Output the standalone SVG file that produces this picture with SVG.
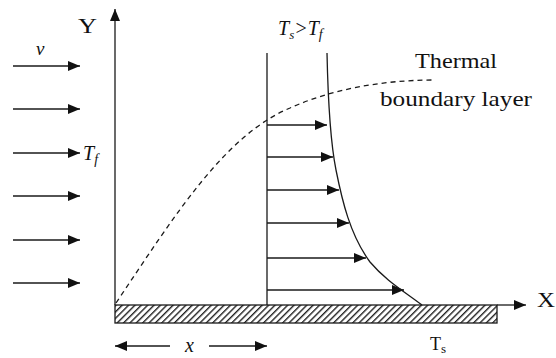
<svg xmlns="http://www.w3.org/2000/svg" width="556" height="358" viewBox="0 0 556 358">
<style>
.ln{stroke:#1a1a1a;stroke-width:1.3;fill:none}
.ar{stroke:#1a1a1a;stroke-width:1.3;fill:none;marker-end:url(#ah)}
.t{font-family:"Liberation Serif","Times New Roman",serif;fill:#111}
.i{font-style:italic}
</style>
<defs>
<marker id="ah" markerUnits="userSpaceOnUse" markerWidth="13" markerHeight="10" refX="12" refY="5" orient="auto">
<path d="M0,0 L12,5 L0,10 z" fill="#111"/>
</marker>
<pattern id="hatch" patternUnits="userSpaceOnUse" width="4.5" height="4.5" patternTransform="rotate(45)">
<line x1="0.7" y1="0" x2="0.7" y2="4.5" stroke="#111" stroke-width="1.3"/>
</pattern>
</defs>
<g id="connectors">
<line class="ar" x1="13" y1="66" x2="80" y2="66"/>
<line class="ar" x1="13" y1="109" x2="80" y2="109"/>
<line class="ar" x1="13" y1="153" x2="80" y2="153"/>
<line class="ar" x1="13" y1="196" x2="80" y2="196"/>
<line class="ar" x1="13" y1="240" x2="80" y2="240"/>
<line class="ar" x1="13" y1="283" x2="80" y2="283"/>
<line class="ar" x1="267" y1="125" x2="327" y2="125"/>
<line class="ar" x1="267" y1="157" x2="333" y2="157"/>
<line class="ar" x1="267" y1="190" x2="339" y2="190"/>
<line class="ar" x1="267" y1="223" x2="349" y2="223"/>
<line class="ar" x1="267" y1="258" x2="366" y2="258"/>
<line class="ar" x1="267" y1="290" x2="404" y2="290"/>
<line class="ar" x1="170" y1="346" x2="115" y2="346"/>
<line class="ar" x1="209" y1="346" x2="267" y2="346"/>
</g>
<g id="axes">
<line class="ar" x1="115" y1="305" x2="115" y2="9"/>
<line class="ar" x1="497" y1="305" x2="526" y2="305"/>
</g>
<g id="plate">
<rect x="115" y="305" width="382" height="18" fill="url(#hatch)" stroke="#1a1a1a" stroke-width="1.3"/>
</g>
<g id="profile">
<line class="ln" x1="267" y1="53" x2="267" y2="305"/>
<path class="ln" d="M327,53 C328,100 330,140 336,170 C342,200 350,235 370,262 C385,280 405,292 422,305"/>
</g>
<g id="boundary">
<path class="ln" stroke-dasharray="5,4" d="M116,303 C175,215 225,135 290,108 C330,90 380,80 435,80"/>
</g>
<g id="labels">
<text class="t" x="78" y="33" font-size="20" textLength="19" lengthAdjust="spacingAndGlyphs">Y</text>
<text class="t i" x="36" y="55" font-size="19">v</text>
<text class="t i" x="83" y="160" font-size="20">T<tspan font-size="14" dy="4">f</tspan></text>
<text class="t i" x="278" y="35" font-size="20">T<tspan font-size="13" dy="4">s</tspan><tspan dy="-4">&gt;T</tspan><tspan font-size="14" dy="4">f</tspan></text>
<text class="t" x="415" y="68" font-size="22" textLength="82" lengthAdjust="spacingAndGlyphs">Thermal</text>
<text class="t" x="380" y="106" font-size="22" textLength="152" lengthAdjust="spacingAndGlyphs">boundary layer</text>
<text class="t" x="537" y="307" font-size="21" textLength="18" lengthAdjust="spacingAndGlyphs">X</text>
<text class="t" x="430" y="350" font-size="18">T<tspan font-size="13" dy="3">s</tspan></text>
<text class="t i" x="185" y="352" font-size="20">x</text>
</g>
</svg>
